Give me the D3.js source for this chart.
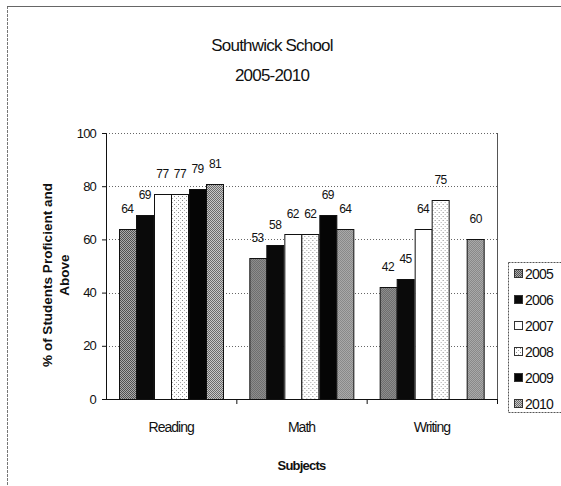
<!DOCTYPE html>
<html>
<head>
<meta charset="utf-8">
<script src="https://cdn.jsdelivr.net/npm/d3@7"></script>
<style>
  html, body { margin: 0; padding: 0; background: #fff; }
  svg { display: block; }
  text { font-family: "Liberation Sans", Arial, sans-serif; fill: #111; }
</style>
</head>
<body>
<svg id="chart" width="561" height="486"></svg>
<script>
// ---- data ----
const subjects = ["Reading", "Math", "Writing"];
const years = ["2005", "2006", "2007", "2008", "2009", "2010"];
const values2005 = [64, 53, 42];
const values2006 = [69, 58, 45];
const values2007 = [77, 62, 64];
const values2008 = [77, 62, 75];
const values2009 = [79, 69, null];
const values2010 = [81, 64, 60];
const yTicks = [0, 20, 40, 60, 80, 100];
const titleLines = ["Southwick School", "2005-2010"];
const yTitleLines = ["% of Students Proficient and", "Above"];
const xTitle = "Subjects";

const seriesValues = [values2005, values2006, values2007, values2008, values2009, values2010];

const svg = d3.select("#chart");
const defs = svg.append("defs");

// patterns
function checker(id, a, b) {
  const p = defs.append("pattern").attr("id", id).attr("width", 2).attr("height", 2)
    .attr("patternUnits", "userSpaceOnUse");
  p.append("rect").attr("width", 2).attr("height", 2).attr("fill", b);
  p.append("rect").attr("width", 1).attr("height", 1).attr("fill", a);
  p.append("rect").attr("x", 1).attr("y", 1).attr("width", 1).attr("height", 1).attr("fill", a);
}
checker("p2005", "#505050", "#ababab");
checker("p2010", "#6a6a6a", "#c8c8c8");
(function () {
  const p = defs.append("pattern").attr("id", "p2008").attr("width", 4).attr("height", 4)
    .attr("patternUnits", "userSpaceOnUse");
  p.append("rect").attr("width", 4).attr("height", 4).attr("fill", "#fff");
  p.append("rect").attr("x", 0).attr("y", 0).attr("width", 1).attr("height", 1).attr("fill", "#888");
  p.append("rect").attr("x", 2).attr("y", 2).attr("width", 1).attr("height", 1).attr("fill", "#aaa");
})();
const fills = ["url(#p2005)", "#0a0a0a", "#ffffff", "url(#p2008)", "#050505", "url(#p2010)"];

// outer chart frame
svg.append("line").attr("x1", 7.5).attr("x2", 7.5).attr("y1", 6).attr("y2", 486)
  .attr("stroke", "#777").attr("stroke-dasharray", "3,1");
svg.append("line").attr("x1", 7).attr("x2", 561).attr("y1", 6.5).attr("y2", 6.5)
  .attr("stroke", "#666");

// geometry
const plot = { left: 106, right: 497, top: 133, bottom: 399 };

const x0 = d3.scaleBand().domain(subjects).range([plot.left, plot.right]).padding(0);
const groupPad = x0.bandwidth() * 0.096;
const x1 = d3.scaleBand().domain(years).range([groupPad, x0.bandwidth() - groupPad]).padding(0);
const y = d3.scaleLinear().domain([0, 100]).range([plot.bottom, plot.top]);

// gridlines
svg.append("g").selectAll("line").data(yTicks.filter(d => d > 0)).join("line")
  .attr("x1", plot.left).attr("x2", plot.right)
  .attr("y1", d => Math.round(y(d)) + 0.5).attr("y2", d => Math.round(y(d)) + 0.5)
  .attr("stroke", "#666").attr("stroke-dasharray", "1,2");

// plot right border
svg.append("line").attr("x1", plot.right + 0.5).attr("x2", plot.right + 0.5)
  .attr("y1", y(100)).attr("y2", plot.bottom).attr("stroke", "#555");

// bars
const groups = svg.append("g").selectAll("g").data(subjects).join("g")
  .attr("transform", d => `translate(${x0(d)},0)`);

groups.each(function (subj, si) {
  const g = d3.select(this);
  years.forEach((yr, k) => {
    const v = seriesValues[k][si];
    if (v == null) return;
    g.append("rect")
      .attr("x", Math.round(x1(yr)) + 0.5)
      .attr("y", Math.round(y(v)) + 0.5)
      .attr("width", Math.round(x1.bandwidth()) - 1)
      .attr("height", Math.round(y(0)) - Math.round(y(v)))
      .attr("fill", fills[k])
      .attr("stroke", "#111").attr("stroke-width", 1);
    g.append("text")
      .attr("x", x1(yr) + x1.bandwidth() / 2)
      .attr("y", y(v) - 16)
      .attr("text-anchor", "middle")
      .attr("font-size", 12)
      .attr("letter-spacing", -0.6)
      .text(v);
  });
});

// y axis
const yAxis = svg.append("g").attr("transform", `translate(${plot.left},0)`)
  .call(d3.axisLeft(y).tickValues(yTicks).tickSize(4).tickPadding(6));
yAxis.select(".domain").attr("stroke", "#111");
yAxis.selectAll(".tick line").attr("stroke", "#111");
yAxis.selectAll("text").attr("font-size", 13).attr("font-family", "Liberation Sans, Arial, sans-serif")
  .attr("fill", "#111").attr("letter-spacing", -0.8);

// x axis
const xAxis = svg.append("g").attr("transform", `translate(0,${plot.bottom})`);
xAxis.append("line").attr("x1", plot.left).attr("x2", plot.right)
  .attr("y1", 0.5).attr("y2", 0.5).attr("stroke", "#111");
xAxis.selectAll("line.tk").data(subjects).join("line").attr("class", "tk")
  .attr("x1", d => x0(d) + x0.bandwidth() + 0.5).attr("x2", d => x0(d) + x0.bandwidth() + 0.5)
  .attr("y1", 0).attr("y2", 5).attr("stroke", "#111");
xAxis.selectAll("text").data(subjects).join("text")
  .attr("x", d => x0(d) + x0.bandwidth() / 2)
  .attr("y", 33)
  .attr("text-anchor", "middle").attr("font-size", 14).attr("letter-spacing", -1)
  .text(d => d);

// x title
svg.append("text").attr("x", (plot.left + plot.right) / 2).attr("y", 470)
  .attr("text-anchor", "middle").attr("font-size", 13).attr("font-weight", "bold")
  .attr("letter-spacing", -0.8)
  .text(xTitle);

// y title
const yt = svg.append("text").attr("transform", "translate(52,275) rotate(-90)")
  .attr("text-anchor", "middle").attr("font-size", 13.5).attr("font-weight", "bold");
yTitleLines.forEach((t, i) => {
  yt.append("tspan").attr("x", 0).attr("dy", i === 0 ? 0 : 17).text(t);
});

// title
titleLines.forEach((t, i) => {
  svg.append("text").attr("x", 272).attr("y", 51 + i * 30)
    .attr("text-anchor", "middle").attr("font-size", 17).attr("letter-spacing", -0.8)
    .text(t);
});

// legend
const legend = svg.append("g");
legend.append("rect").attr("x", 508.5).attr("y", 262.5).attr("width", 70).attr("height", 150)
  .attr("fill", "#fff").attr("stroke", "#555").attr("stroke-dasharray", "2,1");
years.forEach((yr, k) => {
  const ly = 274 + k * 26;
  legend.append("rect").attr("x", 514.5).attr("y", ly - 4.5).attr("width", 8).attr("height", 8)
    .attr("fill", fills[k]).attr("stroke", "#333");
  legend.append("text").attr("x", 525).attr("y", ly + 5).attr("font-size", 14)
    .attr("letter-spacing", -0.8).text(yr);
});
</script>
</body>
</html>
